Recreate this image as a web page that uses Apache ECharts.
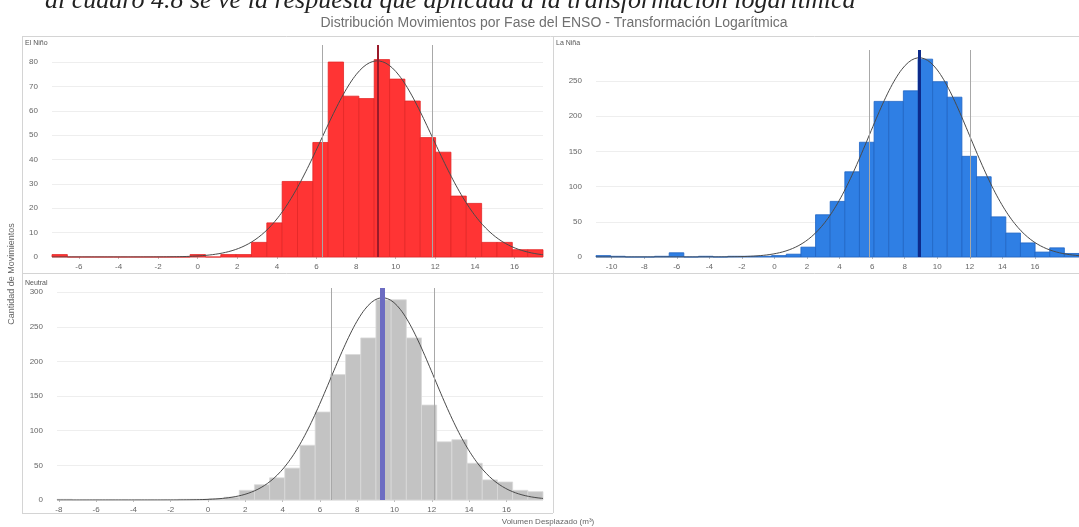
<!DOCTYPE html>
<html>
<head>
<meta charset="utf-8">
<script src="https://cdn.jsdelivr.net/npm/echarts@6/dist/echarts.min.js"></script>
<style>
  html, body { margin: 0; padding: 0; background: #ffffff; }
  #chart { width: 1079px; height: 527px; }
</style>
</head>
<body>
<div id="chart"></div>
<script>
// Histogram bins per ENSO phase (log of displaced volume), counts per bin
const ninoBinStart = -7.36;
const ninoBinWidth = 0.775;
const ninoCounts = [1, 0, 0, 0, 0, 0, 0, 0, 0, 1, 0, 1, 1,
  6, 14, 31, 31, 47, 80, 66, 65, 81, 73, 64, 49, 43, 25, 22, 6, 6, 3, 3];

const ninaBinStart = -10.96;
const ninaBinWidth = 0.899;
const ninaCounts = [2, 1, 0, 0, 1, 6, 0, 1, 0, 1, 1, 1,
  2, 4, 14, 60, 79, 121, 163, 221, 221, 236, 281, 249, 227, 143, 114, 57, 34, 20, 7, 13, 5];

const neutralBinStart = -8.1;
const neutralBinWidth = 0.8145;
const neutralCounts = [1, 0, 0, 0, 0, 0, 0, 0, 1, 1, 2, 4,
  14, 22, 32, 46, 79, 127, 181, 210, 234, 289, 289, 234, 137, 84, 87, 53, 29, 26, 14, 12];

// Fitted normal curve: mean, standard deviation and peak height per phase
const fitMean = [9.07, 8.9, 9.36];
const fitStd = [2.8, 3.1, 2.76];
const fitPeak = [80.5, 283, 292];

// Tick labels
const ninoXTicks = [-6, -4, -2, 0, 2, 4, 6, 8, 10, 12, 14, 16];
const ninaXTicks = [-10, -8, -6, -4, -2, 0, 2, 4, 6, 8, 10, 12, 14, 16];
const neutralXTicks = [-8, -6, -4, -2, 0, 2, 4, 6, 8, 10, 12, 14, 16];

const phaseNames = ['El Niño', 'La Niña', 'Neutral'];

function binRows(start, width, counts) {
  return counts.map((c, i) => [start + i * width, start + (i + 1) * width, c]);
}

function curveRows(k, lo, hi) {
  const rows = [];
  const steps = 300;
  for (let i = 0; i <= steps; i++) {
    const x = lo + (hi - lo) * i / steps;
    const z = (x - fitMean[k]) / fitStd[k];
    rows.push([x, fitPeak[k] * Math.exp(-0.5 * z * z)]);
  }
  return rows;
}

function barRenderer(fill, edge) {
  return function (params, api) {
    const top = api.coord([api.value(0), api.value(2)]);
    const base = api.coord([api.value(1), 0]);
    return {
      type: 'rect',
      shape: { x: top[0], y: top[1], width: base[0] - top[0], height: base[1] - top[1] },
      style: { fill: fill, stroke: edge, lineWidth: 0.8 }
    };
  };
}

const panels = [
  { start: ninoBinStart, width: ninoBinWidth, counts: ninoCounts, ticks: ninoXTicks,
    grid: { left: 52, top: 45, width: 491, height: 212 }, yMax: 87, yStep: 10,
    fill: '#ff3434', edge: '#e32626', meanColor: '#9a1a2a', meanWidth: 2 },
  { start: ninaBinStart, width: ninaBinWidth, counts: ninaCounts, ticks: ninaXTicks,
    grid: { left: 596, top: 50, width: 497, height: 207 }, yMax: 294, yStep: 50,
    fill: '#2f7fe4', edge: '#2064c4', meanColor: '#0d2a8a', meanWidth: 3 },
  { start: neutralBinStart, width: neutralBinWidth, counts: neutralCounts, ticks: neutralXTicks,
    grid: { left: 57, top: 288, width: 486, height: 212 }, yMax: 306, yStep: 50,
    fill: '#c3c3c3', edge: '#d9d9d9', meanColor: '#6c6cc2', meanWidth: 5 }
];

const labelStyle = { color: '#666', fontSize: 8, fontFamily: 'Liberation Sans' };

const grids = [], xAxes = [], yAxes = [], series = [];
panels.forEach((p, k) => {
  const lo = p.start;
  const hi = p.start + p.counts.length * p.width;
  grids.push(Object.assign({ containLabel: false }, p.grid));
  xAxes.push({
    type: 'value', gridIndex: k, min: lo, max: hi,
    axisLine: { show: false },
    axisTick: { show: true, length: 2, customValues: p.ticks, lineStyle: { color: '#bbb' } },
    axisLabel: Object.assign({ customValues: p.ticks, margin: 6 }, labelStyle),
    splitLine: { show: false }
  });
  yAxes.push({
    type: 'value', gridIndex: k, min: 0, max: p.yMax, interval: p.yStep,
    axisLine: { show: false },
    axisTick: { show: false },
    axisLabel: Object.assign({ margin: 14, showMaxLabel: false }, labelStyle),
    splitLine: { show: true, showMaxLine: false, lineStyle: { color: '#eeeeee', width: 1 } }
  });
  series.push({
    type: 'custom', name: phaseNames[k], xAxisIndex: k, yAxisIndex: k,
    renderItem: barRenderer(p.fill, p.edge),
    encode: { x: [0, 1], y: 2 },
    data: binRows(p.start, p.width, p.counts),
    z: 2
  });
  series.push({
    type: 'line', xAxisIndex: k, yAxisIndex: k,
    data: curveRows(k, lo, hi),
    showSymbol: false, smooth: false,
    lineStyle: { color: '#4a4a4a', width: 1 },
    z: 4,
    markLine: {
      silent: true, symbol: 'none', label: { show: false },
      data: [
        { xAxis: fitMean[k] - fitStd[k], lineStyle: { color: '#a8a8a8', width: 1, type: 'solid' } },
        { xAxis: fitMean[k] + fitStd[k], lineStyle: { color: '#a8a8a8', width: 1, type: 'solid' } },
        { xAxis: fitMean[k], lineStyle: { color: p.meanColor, width: p.meanWidth, type: 'solid' } }
      ]
    }
  });
});

const frameLine = { stroke: '#d4d4d4', lineWidth: 1 };
const graphic = [
  { type: 'text', left: 45, top: -12,
    style: { text: 'al cuadro 4.8 se ve la respuesta que aplicada a la transformación logarítmica',
      font: 'italic 26px "Liberation Serif"', fill: '#222' } },
  { type: 'text', x: 554, y: 23,
    style: { text: 'Distribución Movimientos por Fase del ENSO - Transformación Logarítmica',
      font: '14px "Liberation Sans"', fill: '#707070', align: 'center', verticalAlign: 'middle' } },
  { type: 'line', shape: { x1: 22, y1: 36.5, x2: 1079, y2: 36.5 }, style: frameLine },
  { type: 'line', shape: { x1: 22.5, y1: 36, x2: 22.5, y2: 513 }, style: frameLine },
  { type: 'line', shape: { x1: 553.5, y1: 36, x2: 553.5, y2: 513 }, style: frameLine },
  { type: 'line', shape: { x1: 22, y1: 273.5, x2: 1079, y2: 273.5 }, style: frameLine },
  { type: 'line', shape: { x1: 22, y1: 513.5, x2: 553, y2: 513.5 }, style: frameLine },
  { type: 'text', x: 25, y: 43,
    style: { text: phaseNames[0], font: '7px "Liberation Sans"', fill: '#555', verticalAlign: 'middle' } },
  { type: 'text', x: 556, y: 43,
    style: { text: phaseNames[1], font: '7px "Liberation Sans"', fill: '#555', verticalAlign: 'middle' } },
  { type: 'text', x: 25, y: 283,
    style: { text: phaseNames[2], font: '7px "Liberation Sans"', fill: '#555', verticalAlign: 'middle' } },
  { type: 'text', x: 12, y: 274, rotation: Math.PI / 2,
    style: { text: 'Cantidad de Movimientos', font: '9px "Liberation Sans"', fill: '#666',
      align: 'center', verticalAlign: 'middle' } },
  { type: 'text', x: 548, y: 522,
    style: { text: 'Volumen Desplazado (m³)', font: '8px "Liberation Sans"', fill: '#666',
      align: 'center', verticalAlign: 'middle' } }
];

const chart = echarts.init(document.getElementById('chart'), null, { renderer: 'canvas' });
chart.setOption({
  animation: false,
  backgroundColor: '#ffffff',
  textStyle: { fontFamily: 'Liberation Sans' },
  grid: grids,
  xAxis: xAxes,
  yAxis: yAxes,
  series: series,
  graphic: graphic
});
</script>
</body>
</html>
